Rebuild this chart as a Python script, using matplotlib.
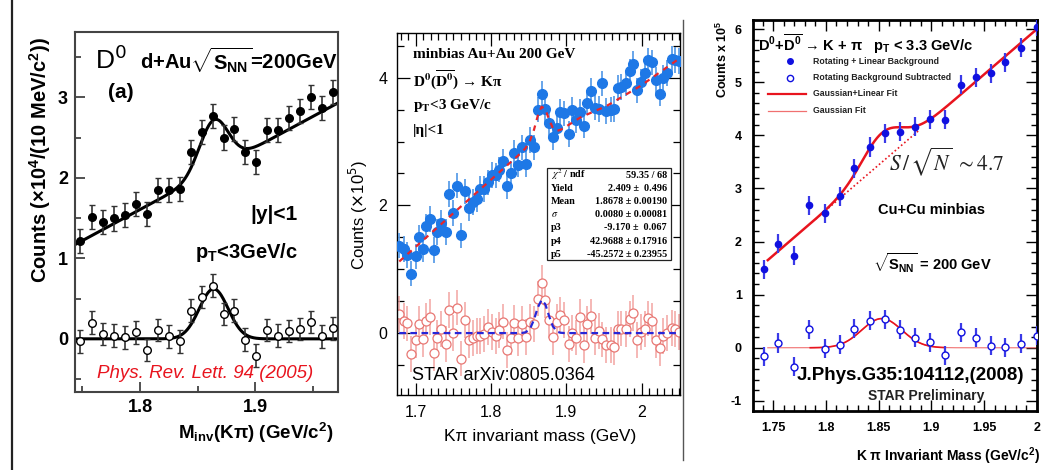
import numpy as np
import matplotlib
matplotlib.use("Agg")
import matplotlib.pyplot as plt
from matplotlib.lines import Line2D
from matplotlib.patches import Rectangle
from matplotlib.ticker import MultipleLocator, FixedLocator, FuncFormatter

plt.rcParams["axes.unicode_minus"] = False
plt.rcParams["mathtext.fontset"] = "custom"
plt.rcParams["mathtext.rm"] = "Liberation Sans:bold"
plt.rcParams["mathtext.bf"] = "Liberation Sans:bold"
plt.rcParams["mathtext.it"] = "Liberation Sans:italic:bold"
plt.rcParams["font.family"] = ["Liberation Sans", "DejaVu Sans"]

W, H = 1044, 470

# ---- panel (a): d+Au, PRL 94 (2005)
a_x = [1.7478, 1.7580, 1.7676, 1.7771, 1.7867, 1.7963, 1.8058, 1.8154,
       1.8250, 1.8345, 1.8441, 1.8537, 1.8632, 1.8728, 1.8820, 1.8916,
       1.9011, 1.9104, 1.9200, 1.9293, 1.9389, 1.9484, 1.9580, 1.9676]
a_raw = [1.21, 1.515, 1.45, 1.495, 1.535, 1.67, 1.545, 1.85, 1.85, 1.86, 2.32,
         2.57, 2.77, 2.50, 2.61, 2.32, 2.20, 2.59, 2.59, 2.74, 2.83, 3.00,
         2.87, 3.07]
a_sub = [-0.03, 0.20, 0.06, 0.04, 0.02, 0.08, -0.14, 0.11, 0.03, -0.03, 0.35,
         0.52, 0.66, 0.31, 0.35, -0.01, -0.21, 0.11, 0.04, 0.10, 0.12, 0.21,
         0.03, 0.13]
a_err_raw = 0.15
a_err_sub = 0.14
# fit: linear + gaussian
a_bg0, a_bgx0, a_slope = 1.17, 1.7435, 7.7
a_amp, a_mean, a_sig = 0.62, 1.864, 0.0125

# ---- panel (b): Au+Au, arXiv:0805.0364
b_x = [1.678, 1.684, 1.688, 1.694, 1.700, 1.704, 1.709, 1.714, 1.719, 1.724,
       1.728, 1.734, 1.740, 1.744, 1.750, 1.755, 1.760, 1.765, 1.771, 1.776,
       1.781, 1.785, 1.791, 1.796, 1.801, 1.806, 1.811, 1.816, 1.821, 1.826,
       1.831, 1.836, 1.841, 1.846, 1.852, 1.857, 1.862, 1.867, 1.872, 1.877,
       1.882, 1.888, 1.892, 1.897, 1.903, 1.908, 1.913, 1.918, 1.923, 1.928,
       1.933, 1.938, 1.944, 1.948, 1.953, 1.959, 1.963, 1.968, 1.973, 1.979,
       1.984, 1.989, 1.994, 1.999, 2.004, 2.008, 2.014, 2.019, 2.024, 2.029,
       2.034, 2.040, 2.045, 2.050]
b_raw = [1.37, 1.32, 1.22, 0.93, 1.20, 1.50, 1.31, 1.67, 1.79, 1.30,
         1.58, 1.72, 1.58, 2.18, 1.88, 2.31, 1.53, 2.22, 1.96, 2.05,
         2.10, 2.26, 2.26, 2.36, 2.48, 2.47, 2.56, 2.69, 2.30, 2.50,
         2.82, 2.64, 2.91, 2.65, 3.02, 2.91, 3.50, 3.75, 3.51, 3.29,
         3.07, 3.21, 3.46, 3.44, 3.12, 3.50, 3.33, 3.46, 3.25, 3.61,
         3.79, 3.53, 3.51, 3.91, 3.48, 3.50, 3.51, 3.84, 3.85, 3.91,
         4.10, 4.22, 3.80, 3.94, 4.07, 4.27, 4.24, 3.96, 3.75, 4.00,
         4.07, 4.29, 4.28, 4.26]
b_sub = [0.30, 0.19, 0.15, -0.33, -0.11, 0.14, -0.10, 0.19, 0.25, -0.31,
         -0.07, 0.06, -0.17, 0.36, 0.00, 0.40, -0.40, 0.20, -0.11, -0.08,
         -0.05, -0.05, -0.02, 0.10, 0.02, -0.05, 0.05, 0.18, -0.27, -0.07,
         0.16, -0.08, 0.14, -0.06, 0.17, 0.14, 0.54, 0.78, 0.52, 0.21,
         -0.06, 0.18, 0.28, 0.21, -0.17, 0.00, -0.07, 0.25, -0.19, 0.14,
         0.26, -0.07, 0.03, -0.10, -0.19, -0.19, -0.22, 0.06, 0.07, 0.06,
         0.22, 0.32, -0.11, 0.02, 0.06, 0.23, 0.19, -0.11, -0.24, -0.05,
         0.00, 0.08, 0.06, 0.02]
b_err_raw = 0.2
b_err_sub = 0.28
# background under the peak
b_bg_x = [1.676, 1.852, 1.883, 1.919, 1.954, 1.999, 2.050]
b_bg_y = [1.10, 2.95, 3.11, 3.38, 3.56, 3.875, 4.30]
b_amp, b_mean, b_sig = 0.52, 1.8678, 0.0080
b_stats = [(r"$\chi^2$ / ndf", "59.35 / 68"),
           ("Yield", "2.409 \u00b1  0.496"),
           ("Mean", "1.8678 \u00b1 0.00190"),
           (r"$\sigma$", "0.0080 \u00b1 0.00081"),
           ("p3", "-9.170 \u00b1  0.067"),
           ("p4", "42.9688 \u00b1 0.17916"),
           ("p5", "-45.2572 \u00b1 0.23955")]

# ---- panel (c): Cu+Cu, J.Phys.G35 (2008)
c_x = [1.7414, 1.755, 1.770, 1.784, 1.799, 1.813, 1.827, 1.842, 1.856, 1.870,
       1.8845, 1.899, 1.913, 1.928, 1.942, 1.956, 1.970, 1.985, 2.000]
c_raw = [1.48, 1.96, 1.73, 2.68, 2.53, 2.85, 3.38, 3.78, 4.04, 4.07, 4.16,
         4.30, 4.29, 4.95, 5.09, 5.17, 5.37, 5.65, 6.04]
c_sub = [-0.16, 0.09, -0.36, 0.35, -0.02, 0.06, 0.36, 0.51, 0.54, 0.34, 0.19,
         0.10, -0.14, 0.29, 0.19, 0.04, 0.01, 0.08, 0.23]
c_err = 0.18
c_bg0, c_bgx0, c_slope = 1.65, 1.745, 17.06
c_amp, c_mean, c_sig = 0.55, 1.853, 0.019


def gauss(x, amp, mean, sig):
    return amp * np.exp(-0.5 * ((x - mean) / sig) ** 2)


def fr(x0, y0, x1, y1):
    return [x0 / W, 1 - y1 / H, (x1 - x0) / W, (y1 - y0) / H]


def ftext(x, y, s, **kw):
    kw.setdefault("va", "center")
    return fig.text(x / W, 1 - y / H, s, **kw)


gfmt = FuncFormatter(lambda v, p: "%g" % v)
fig = plt.figure(figsize=(W / 100, H / 100), dpi=100)

# decorative image borders
fig.add_artist(Line2D([12 / W, 12 / W], [0, 1], color="#222222", lw=1.6))
fig.add_artist(Line2D([683 / W, 683 / W], [1 - 460 / H, 1 - 20 / H],
                      color="#555555", lw=1.0))

# ===================== panel (a)
ax1 = fig.add_axes(fr(75, 32, 338, 392))
xa = np.linspace(a_bgx0, 1.972, 400)
bga = a_bg0 + a_slope * (xa - a_bgx0)
ax1.plot(xa, bga + gauss(xa, a_amp, a_mean, a_sig), color="black", lw=2.2)
ax1.plot(xa, gauss(xa, a_amp, a_mean, a_sig), color="black", lw=2.2)
ax1.errorbar(a_x, a_raw, yerr=a_err_raw, fmt="o", ms=5.5, color="black",
             ecolor="#333333", elinewidth=1.2, capsize=2, capthick=1.0, zorder=3)
ax1.errorbar(a_x, a_sub, yerr=a_err_sub, fmt="o", ms=5.5, mfc="white",
             mec="black", mew=1.0, ecolor="#333333", elinewidth=1.2,
             capsize=2, capthick=1.0, zorder=3)
ax1.set_xlim(1.7435, 1.972)
ax1.set_ylim(-0.66, 3.81)
ax1.xaxis.set_major_locator(FixedLocator([1.8, 1.9]))
ax1.xaxis.set_minor_locator(FixedLocator([1.75, 1.85, 1.95]))
ax1.yaxis.set_major_locator(MultipleLocator(1))
ax1.yaxis.set_minor_locator(MultipleLocator(0.5))
ax1.xaxis.set_major_formatter(gfmt)
ax1.yaxis.set_major_formatter(gfmt)
ax1.tick_params(which="both", direction="in", top=False, right=False,
                labelsize=13, width=1.2, color="#333333", pad=5)
ax1.tick_params(which="major", length=7)
ax1.tick_params(which="minor", length=4)
for lab in ax1.get_xticklabels() + ax1.get_yticklabels():
    lab.set_fontweight("bold")
for s in ax1.spines.values():
    s.set_color("#444444")
    s.set_linewidth(1.5)

ftext(95, 60, r"D$^{0}$", fontsize=19, ha="left",
      math_fontfamily="dejavusans")
ftext(140, 60, r"d+Au$\sqrt{\mathbf{S}_{\mathbf{NN}}}$=200GeV", fontsize=14.5,
      fontweight="bold", ha="left")
ftext(108, 93, "(a)", fontsize=15, fontweight="bold", ha="left")
ftext(250, 214, "|y|<1", fontsize=15, fontweight="bold", ha="left")
ftext(195, 253, r"p$_{\mathbf{T}}$<3GeV/c", fontsize=14.5, fontweight="bold",
      ha="left")
ftext(205, 373, "Phys. Rev. Lett. 94 (2005)", fontsize=13.5, style="italic",
      color="#e8141e", ha="center")
ftext(40, 160, r"Counts ($\times$10$^{4}$/(10 MeV/c$^{2}$))", fontsize=14.5,
      fontweight="bold", rotation=90, ha="center")
ftext(256, 433, "M$_{\\mathbf{inv}}$(K\u03c0) (GeV/c$^{2}$)", fontsize=13.5,
      fontweight="bold", ha="center")

# ===================== panel (b)
ax2 = fig.add_axes(fr(397, 33, 680, 395))
bx = np.array(b_x)
bgb = np.interp(bx, b_bg_x, b_bg_y)
ax2.errorbar(b_x, b_sub, yerr=b_err_sub, fmt="o", ms=6.5, mfc="white",
             mec="#e87874", mew=0.9, ecolor="#f2a4a2", elinewidth=1.1,
             zorder=2)
ax2.errorbar(b_x, b_raw, yerr=b_err_raw, fmt="o", ms=7, color="#1e78e6",
             mec="#1e78e6", ecolor="#5c9ee8", elinewidth=1.3, zorder=3)
ax2.plot(bx, bgb + gauss(bx, b_amp, b_mean, b_sig), ls=(0, (2.5, 2.5)),
         color="#e8262a", lw=1.6, zorder=4)
ax2.plot(bx, gauss(bx, b_amp, b_mean, b_sig), ls=(0, (3, 2)),
         color="#2626d8", lw=1.6, zorder=4)
ax2.set_xlim(1.675, 2.051)
ax2.set_ylim(-0.97, 4.70)
ax2.xaxis.set_major_locator(MultipleLocator(0.1))
ax2.xaxis.set_minor_locator(MultipleLocator(0.01))
ax2.yaxis.set_major_locator(MultipleLocator(2))
ax2.yaxis.set_minor_locator(MultipleLocator(0.5))
ax2.xaxis.set_major_formatter(gfmt)
ax2.yaxis.set_major_formatter(gfmt)
ax2.tick_params(which="both", direction="in", top=True, right=True,
                labelsize=11.5, width=0.9, pad=7)
ax2.tick_params(which="major", length=9)
ax2.tick_params(which="minor", length=5)
for s in ax2.spines.values():
    s.set_linewidth(1.0)

serif = ["Liberation Serif", "DejaVu Serif"]
ftext(413, 55, "minbias Au+Au 200 GeV", family=serif, fontweight="bold",
      fontsize=11, ha="left")
ftext(413, 80, "D$^{\\mathbf{0}}$($\\overline{\\mathbf{D}^{\\mathbf{0}}}$) \u2192 K\u03c0",
      family=serif, fontweight="bold", fontsize=11, ha="left",
      math_fontfamily="stix")
ftext(413, 106, r"p$_{\mathbf{T}}$<3 GeV/c", family=serif, fontweight="bold",
      fontsize=11, ha="left", math_fontfamily="stix")
ftext(413, 130, "|\u03b7|<1", family=serif, fontweight="bold",
      fontsize=11, ha="left")

box = Rectangle((547 / W, 1 - 260 / H), 124 / W, 92 / H,
                transform=fig.transFigure, facecolor="white",
                edgecolor="#222222", lw=0.9, zorder=5)
fig.add_artist(box)
for i, (lab, val) in enumerate(b_stats):
    yy = 175 + i * 13.2
    ftext(551, yy, lab, family=serif, fontweight="bold", fontsize=7.3,
          ha="left", math_fontfamily="stix", zorder=6)
    ftext(667, yy, val, family=serif, fontweight="bold", fontsize=7.3,
          ha="right", zorder=6)

ftext(412, 375, "STAR arXiv:0805.0364", fontsize=13, ha="left")
ftext(540, 436, "K\u03c0 invariant mass (GeV)", fontsize=12.5, ha="center")
ftext(358, 215, r"Counts ($\times$10$^{5}$)", fontsize=12, rotation=90,
      ha="center", math_fontfamily="dejavusans")

# ===================== panel (c)
ax3 = fig.add_axes(fr(753, 20, 1037, 411))
xc = np.linspace(c_bgx0, 2.0, 400)
bgc = c_bg0 + c_slope * (xc - c_bgx0)
gc = gauss(xc, c_amp, c_mean, c_sig)
ax3.plot(xc, bgc + gc, color="#e8141e", lw=1.8, zorder=2)
core = (xc > 1.79) & (xc < 1.888)
ax3.plot(xc[core], bgc[core], ls=(0, (1, 1.5)), color="#e8141e", lw=1.2,
         zorder=2)
ax3.plot(xc, gc, color="#f07070", lw=0.8, zorder=2)
peak = (xc > 1.785) & (xc < 1.912)
ax3.plot(xc[peak], gc[peak], color="#e8141e", lw=1.2, zorder=2)
ax3.errorbar(c_x, c_raw, yerr=c_err, fmt="o", ms=4.5, color="#1010e0",
             ecolor="#3a3ae8", elinewidth=1.6, zorder=3)
ax3.errorbar(c_x, c_sub, yerr=c_err, fmt="o", ms=5, mfc="white",
             mec="#1010e0", mew=1.0, ecolor="#3a3ae8", elinewidth=1.6,
             zorder=3)
ax3.set_xlim(1.731, 2.0)
ax3.set_ylim(-1.19, 6.17)
ax3.xaxis.set_major_locator(MultipleLocator(0.05))
ax3.xaxis.set_minor_locator(MultipleLocator(0.01))
ax3.yaxis.set_major_locator(MultipleLocator(1))
ax3.yaxis.set_minor_locator(MultipleLocator(0.2))
ax3.xaxis.set_major_formatter(gfmt)
ax3.yaxis.set_major_formatter(gfmt)
ax3.tick_params(which="both", direction="in", top=True, right=True,
                labelsize=9, width=1.0, pad=8)
ax3.tick_params(which="major", length=8)
ax3.tick_params(which="minor", length=4)
for lab in ax3.get_xticklabels() + ax3.get_yticklabels():
    lab.set_fontweight("bold")
for s in ax3.spines.values():
    s.set_linewidth(2.0)

ftext(758, 44, "D$^{0}$+$\\overline{\\mathbf{D}^{0}}$ \u2192 K + \u03c0   p$_{\\mathbf{T}}$ < 3.3 GeV/c",
      fontsize=10.5, fontweight="bold", ha="left")
legend_rows = ["Rotating + Linear Background", "Rotating Background Subtracted",
               "Gaussian+Linear Fit", "Gaussian Fit"]
for i, txt in enumerate(legend_rows):
    yy = 61 + i * 16.5
    ftext(813, yy, txt, fontsize=6.3, fontweight="bold", ha="left",
          color="#222222")
fig.add_artist(Line2D([790 / W], [1 - 61 / H], marker="o", ms=4, color="#1010e0"))
fig.add_artist(Line2D([790 / W], [1 - 77.5 / H], marker="o", ms=4.5,
                      mfc="white", mec="#1010e0", mew=1.0))
fig.add_artist(Line2D([768 / W, 806 / W], [1 - 94 / H] * 2, color="#e8141e",
                      lw=1.6))
fig.add_artist(Line2D([768 / W, 806 / W], [1 - 110.5 / H] * 2,
                      color="#f07070", lw=0.9))

ftext(889, 162, r"$S\,/\,\sqrt{N}\ \sim 4.7$", fontsize=15.5, ha="left",
      math_fontfamily="stix", color="#222222")
ftext(878, 210, "Cu+Cu minbias", fontsize=10.5, fontweight="bold", ha="left")
ftext(873, 263, r"$\sqrt{\mathbf{S}_{\mathbf{NN}}}$ = 200 GeV", fontsize=10.5,
      fontweight="bold", ha="left")
ftext(797, 376, "J.Phys.G35:104112,(2008)", fontsize=13.5, fontweight="bold",
      ha="left")
ftext(868, 396, "STAR Preliminary", fontsize=10, fontweight="bold", ha="left",
      color="#222222")
ftext(1040, 456, "K \u03c0 Invariant Mass (GeV/c$^{2}$)", fontsize=10,
      fontweight="bold", ha="right")
ftext(722, 20, r"Counts x 10$^{5}$", fontsize=9, fontweight="bold",
      rotation=90, ha="center", va="top")

fig.savefig("out.png", dpi=100)
